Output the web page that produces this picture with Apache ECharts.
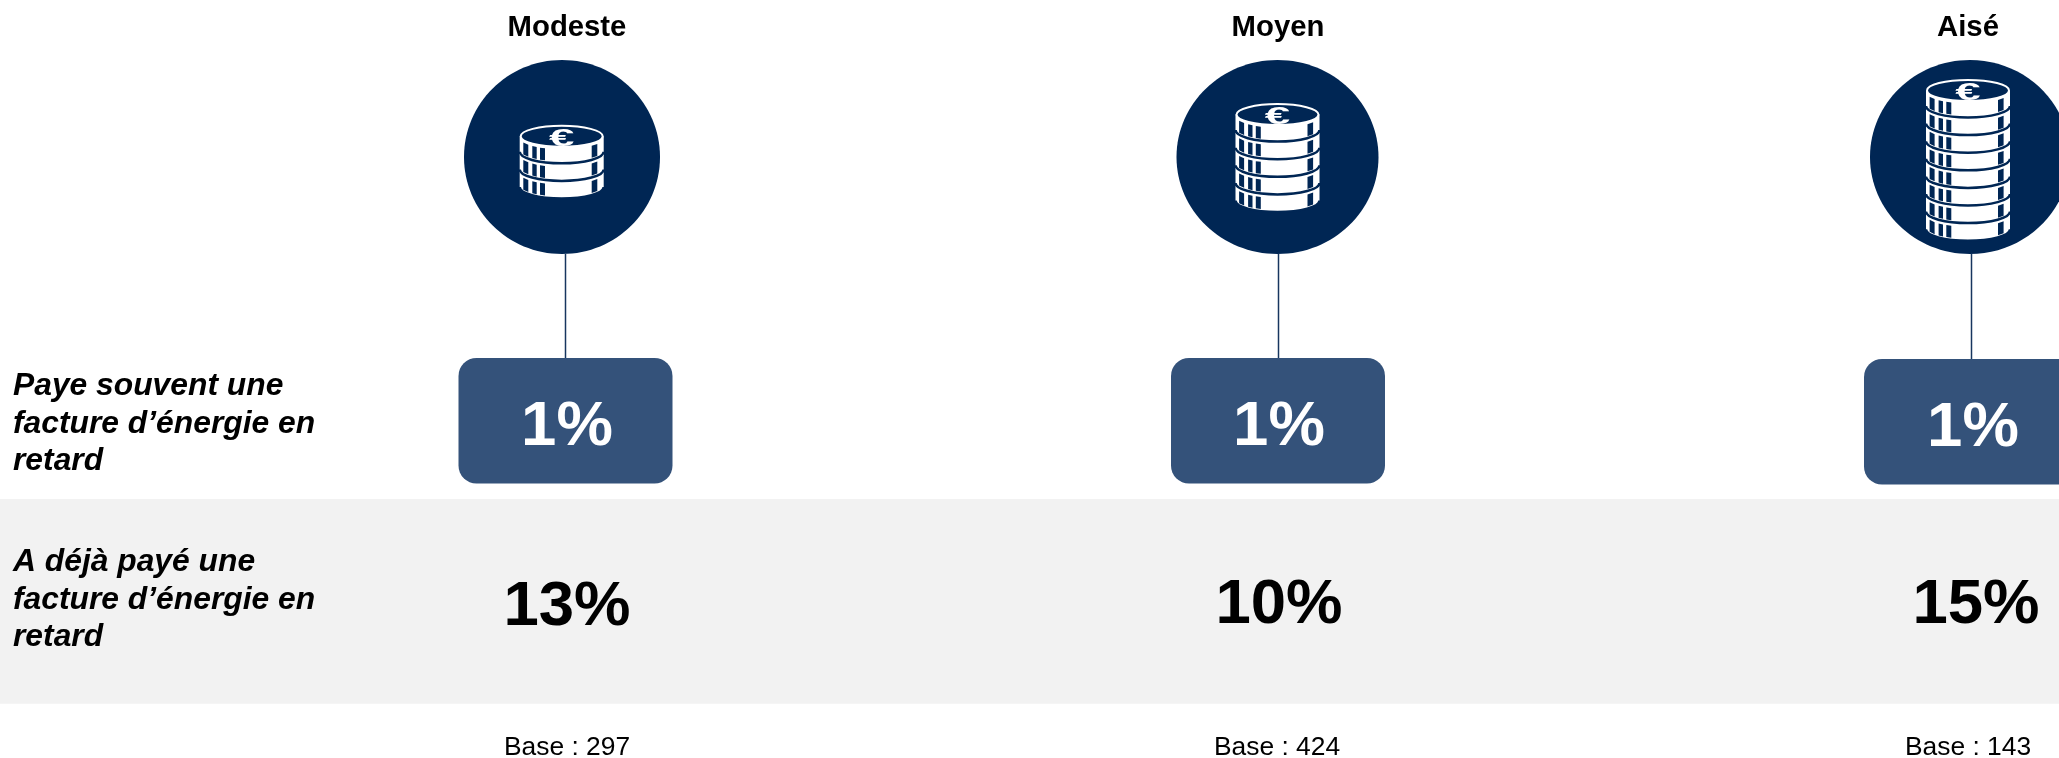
<!DOCTYPE html>
<html><head><meta charset="utf-8">
<style>html,body{margin:0;padding:0;background:#fff}#c{width:2059px;height:758px}</style>
<script src="https://cdn.jsdelivr.net/npm/echarts@6/dist/echarts.min.js"></script>
</head><body><div id="c"></div>
<script>
// ---- data
var categories = ['Modeste', 'Moyen', 'Aisé'];
var coinCounts = [3, 5, 8];
var paysOften = [1, 1, 1];
var paidOnce = [13, 10, 15];
var bases = [297, 424, 143];
var rowLabels = [
  ['Paye souvent une', 'facture d’énergie en', 'retard'],
  ['A déjà payé une', 'facture d’énergie en', 'retard']
];
// ---- layout (page coordinates, one entry per column)
var headerX = [567, 1278, 1968];
var circleX = [562, 1277.5, 1970];
var circleRx = [98, 101, 100];
var lineX = [565.5, 1278.5, 1971.5];
var boxX = [458.5, 1171, 1864];
var boxY = [358, 358, 359];
var valueX = [567, 1279, 1973];
var value2X = [567, 1279, 1976];
var value2Y = [607, 605, 605];
var baseX = [567, 1277, 1968];
var iconX = [561.7, 1277.5, 1968];
var iconBottom = [198.5, 212, 240.7];

var NAVY = '#002654', BOX = '#34527A', FONT = '"Liberation Sans", Arial, sans-serif';
var COIN_RX = 42, COIN_RY = 11.5, COIN_TH = 15.5, COIN_PITCH = 17.6;

function txt(api, x, y, text, font, fill, align) {
  var p = api.coord([x, y]);
  return {type: 'text', x: p[0], y: p[1], style: {text: text, font: font + ' ' + FONT, fill: fill, textAlign: align || 'center', textVerticalAlign: 'middle'}};
}
function coin(api, cx, yb, last) {
  var rx = COIN_RX, ry = COIN_RY, th = COIN_TH;
  var c = api.coord([cx, yb]);
  var ch = [];
  var arc = function (d) { return ry * Math.sqrt(1 - d * d / (rx * rx)); };
  // rim: the navy stroke opens the gap above the coin underneath
  ch.push({type: 'ellipse', shape: {cx: c[0], cy: c[1], rx: rx, ry: ry}, style: {fill: '#fff', stroke: NAVY, lineWidth: 2.5}});
  ch.push({type: 'rect', shape: {x: c[0] - rx, y: c[1] - th, width: 2 * rx, height: th}, style: {fill: '#fff'}});
  [[-38.4, -33.4], [-29.4, -25], [-21.7, -16.7], [30, 35.6]].forEach(function (s) {
    ch.push({type: 'polygon', shape: {points: [
      [c[0] + s[0], c[1] - th + arc(s[0]) + 1.5], [c[0] + s[1], c[1] - th + arc(s[1]) + 1.5],
      [c[0] + s[1], c[1] + arc(s[1]) - 2], [c[0] + s[0], c[1] + arc(s[0]) - 2]
    ]}, style: {fill: NAVY}});
  });
  // face
  ch.push(last
    ? {type: 'ellipse', shape: {cx: c[0], cy: c[1] - th, rx: rx - 1, ry: ry - 1}, style: {fill: NAVY, stroke: '#fff', lineWidth: 2}}
    : {type: 'ellipse', shape: {cx: c[0], cy: c[1] - th, rx: rx, ry: ry}, style: {fill: '#fff'}});
  return ch;
}
function columnItem(params, api) {
  var i = params.dataIndex, ch = [];
  var top = api.coord([circleX[i], 157]);
  var edge = api.coord([lineX[i], 254]), boxTop = api.coord([lineX[i], boxY[i]]);
  ch.push({type: 'line', shape: {x1: edge[0], y1: edge[1], x2: boxTop[0], y2: boxTop[1]}, style: {stroke: '#17365F', lineWidth: 1.5}});
  ch.push({type: 'ellipse', shape: {cx: top[0], cy: top[1], rx: circleRx[i], ry: 97}, style: {fill: NAVY}});
  var n = coinCounts[i], base = iconBottom[i] - COIN_RY, yb;
  for (var k = 0; k < n; k++) {
    yb = base - k * COIN_PITCH;
    ch = ch.concat(coin(api, iconX[i], yb, k === n - 1));
  }
  var eur = txt(api, iconX[i], yb - COIN_TH + 2.6, '€', 'bold 24px', '#fff');
  eur.scaleX = 1.9;
  ch.push(eur);
  var bt = api.coord([boxX[i], boxY[i]]);
  ch.push({type: 'rect', shape: {x: bt[0], y: bt[1], width: 214, height: 125.5, r: 18}, style: {fill: BOX}});
  ch.push(txt(api, valueX[i], boxY[i] + 69, paysOften[i] + '%', 'bold 63.5px', '#fff'));
  ch.push(txt(api, headerX[i], 28, categories[i], 'bold 29.3px', '#000'));
  ch.push(txt(api, value2X[i], value2Y[i], paidOnce[i] + '%', 'bold 63.5px', '#000'));
  ch.push(txt(api, baseX[i], 747.5, 'Base : ' + bases[i], '26.4px', '#000'));
  return {type: 'group', children: ch};
}
var rowLineY = [[386.7, 424, 461.6], [562.7, 600.3, 637.7]];
function rowItem(params, api) {
  var r = params.dataIndex;
  return {type: 'group', children: rowLabels[r].map(function (line, j) {
    return txt(api, 13, rowLineY[r][j], line, 'italic bold 31.8px', '#000', 'left');
  })};
}
function bandItem(params, api) {
  var a = api.coord([0, 499]), b = api.coord([2059, 703.7]);
  return {type: 'rect', shape: {x: a[0], y: a[1], width: b[0] - a[0], height: b[1] - a[1]}, style: {fill: '#F2F2F2'}};
}
var chart = echarts.init(document.getElementById('c'), null, {renderer: 'canvas'});
chart.setOption({
  backgroundColor: '#fff',
  animation: false,
  tooltip: {show: false},
  grid: {left: 0, right: 0, top: 0, bottom: 0},
  xAxis: {type: 'value', min: 0, max: 2059, show: false},
  yAxis: {type: 'value', min: 0, max: 758, inverse: true, show: false},
  series: [
    {type: 'custom', clip: false, silent: true, z: 1, renderItem: bandItem, data: [[0, 499]], encode: {x: 0, y: 1}},
    {type: 'custom', clip: false, silent: true, z: 2, renderItem: rowItem, data: rowLabels.map(function (l, r) { return [13, rowLineY[r][0]]; }), encode: {x: 0, y: 1}},
    {type: 'custom', clip: false, silent: true, z: 3, renderItem: columnItem, data: categories.map(function (c, i) { return [circleX[i], 157]; }), encode: {x: 0, y: 1}}
  ]
});
</script></body></html>
